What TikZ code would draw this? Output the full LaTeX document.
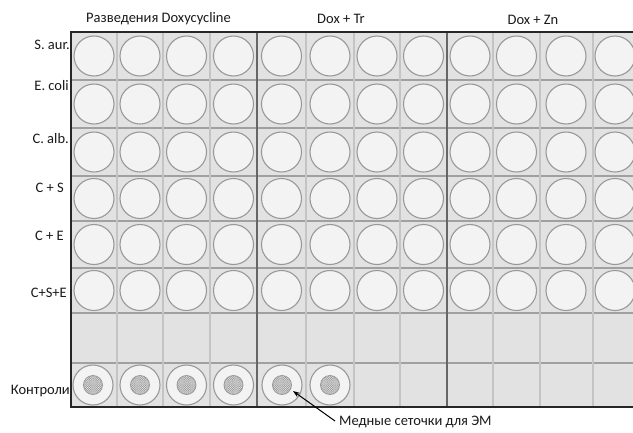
\documentclass[tikz,border=0pt]{standalone}
\usepackage{fontspec}
\setmainfont{Carlito}
\usetikzlibrary{patterns,arrows.meta}
\definecolor{cellbg}{HTML}{E2E2E2}
\definecolor{wellbg}{HTML}{F3F3F3}
\definecolor{wellline}{HTML}{999999}
\definecolor{hline}{HTML}{A0A0A0}
\definecolor{vline}{HTML}{C4C4C4}
\definecolor{major}{HTML}{666666}
\definecolor{txt}{HTML}{1A1A1A}
\pgfdeclarepatternformonly{finedots}{\pgfqpoint{-0.5pt}{-0.5pt}}{\pgfqpoint{2.5pt}{2.5pt}}{\pgfqpoint{2.2pt}{2.2pt}}{%
  \pgfpathrectangle{\pgfqpoint{0pt}{0pt}}{\pgfqpoint{1.1pt}{1.1pt}}%
  \pgfpathrectangle{\pgfqpoint{1.1pt}{1.1pt}}{\pgfqpoint{1.1pt}{1.1pt}}%
  \pgfusepath{fill}}
\tikzset{
  well/.style={circle,draw=wellline,line width=1.1pt,fill=wellbg,minimum size=40pt,inner sep=0pt},
  cwell/.style={circle,draw=wellline,line width=1.1pt,fill=wellbg,minimum size=40pt,inner sep=0pt},
  emback/.style={circle,fill=black!10,minimum size=19pt,inner sep=0pt},
  emgrid/.style={circle,draw=wellline,line width=0.8pt,minimum size=19pt,inner sep=0pt,pattern=finedots,pattern color=black!38},
  rowlab/.style={anchor=base east,font=\fontsize{14.5}{16}\selectfont,inner sep=0pt,text=txt},
  collab/.style={anchor=base,font=\fontsize{14.5}{16}\selectfont,inner sep=0pt,text=txt},
}
\begin{document}
\begin{tikzpicture}[x=1pt,y=-1pt]
\useasboundingbox (0,0) rectangle (633,432);
\fill[white] (0,0) rectangle (633,432);
\begin{scope}
\clip (0,0) rectangle (633,432);
\fill[cellbg] (71,32) rectangle (645,407);
% horizontal lines
\foreach \y in {80,128,176,221,268,313,363}
  \draw[hline,line width=1.5pt] (71,\y) -- (645,\y);
% minor vertical lines
\foreach \x in {117,163,210,306,354,400,493,540,593}
  \draw[vline,line width=1.3pt] (\x,32) -- (\x,407);
% wells
\foreach \cx [count=\i] in {94,140,186.5,233.5,281.5,330,377,423.5,470,516.5,566,615} {
  \foreach \cy [count=\j] in {56,104,152,198.5,244.5,290.5} {
    \node[well] (w-\j-\i) at (\cx,\cy) {};
  }
}
% major dividers
\foreach \x in {257,447}
  \draw[major,line width=1.6pt] (\x,32) -- (\x,407);
% outer border
\draw[black!85,line width=1.8pt] (645,32) -- (71,32) -- (71,407) -- (645,407);
\end{scope}
% control wells with EM grids
\foreach \cx [count=\i] in {93,140,186.5,233.5,282,330} {
  \node[cwell] (c\i) at (\cx,385) {};
  \node[emback] (b\i) at (\cx,385) {};
  \node[emgrid] (g\i) at (\cx,385) {};
}
% labels
\node[collab] (t1) at (158.5,22) {Разведения Doxycycline};
\node[collab] (t2) at (341,23) {Dox + Tr};
\node[collab] (t3) at (533,24) {Dox + Zn};
\node[rowlab] (l1) at (70,49) {S. aur.};
\node[rowlab] (l2) at (69,90) {E. coli};
\node[rowlab] (l3) at (69,143) {C. alb.};
\node[rowlab] (l4) at (64,192) {C + S};
\node[rowlab] (l5) at (64,240) {C + E};
\node[rowlab] (l6) at (67,297) {C+S+E};
\node[rowlab] (l7) at (70,394) {Контроли};
\node[anchor=base west,font=\fontsize{14.5}{16}\selectfont,inner sep=0pt,text=txt] (em) at (339,425) {Медные сеточки для ЭМ};
\coordinate (as) at (335,421);
\draw[black,line width=1pt,-{Stealth[length=7pt,width=5pt]}] (as) -- (293,391);
\end{tikzpicture}
\end{document}
